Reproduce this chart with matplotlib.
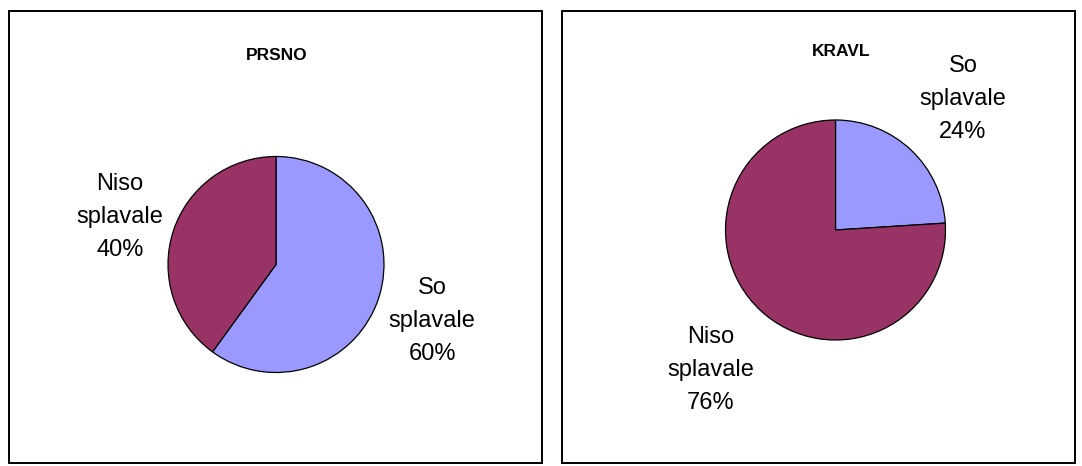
import matplotlib
matplotlib.use("Agg")
import matplotlib.pyplot as plt
from matplotlib.patches import Rectangle

plt.rcParams['font.family'] = ['Liberation Sans', 'DejaVu Sans']

# Data
titles = ["PRSNO", "KRAVL"]
categories = ["So\nsplavale", "Niso\nsplavale"]
prsno_values = [60, 40]
kravl_values = [24, 76]
colors = ["#9999FF", "#993366"]

W, H = 1082, 466
fig = plt.figure(figsize=(W / 100, H / 100), dpi=100)
ax = fig.add_axes([0, 0, 1, 1])

# panel frames (x0, y0, x1, y1) in pixel coordinates
frames = [(9, 11, 542, 463), (562, 11, 1075, 463)]
for x0, y0, x1, y1 in frames:
    ax.add_patch(Rectangle((x0, y0), x1 - x0, y1 - y0, fill=False,
                           edgecolor="black", linewidth=1.4, zorder=1))

panels = [
    dict(title=titles[0], values=prsno_values, center=(276, 264.5), radius=108,
         title_pos=(277, 55),
         label_pos=[(432, 321), (120, 217)]),
    dict(title=titles[1], values=kravl_values, center=(835.5, 230), radius=110,
         title_pos=(841, 51),
         label_pos=[(963, 99), (711, 370)]),
]

for p in panels:
    cx, cy = p["center"]
    r = p["radius"]
    # y axis is inverted, so counterclock=True renders clockwise on screen
    ax.pie(p["values"], colors=colors, startangle=-90,
           counterclock=True, center=(cx, cy), radius=r,
           wedgeprops=dict(edgecolor="black", linewidth=0.9),
           frame=True)
    ax.text(*p["title_pos"], p["title"], ha="center", va="center",
            fontsize=12.5, fontweight="bold")
    for (lx, ly), cat, v in zip(p["label_pos"], categories, p["values"]):
        ax.text(lx, ly, f"{cat}\n{v}%", ha="center", va="center",
                fontsize=17, linespacing=1.63)

ax.set_xlim(0, W)
ax.set_ylim(H, 0)
ax.set_aspect("auto")
ax.axis("off")

fig.savefig("out.png", dpi=100, facecolor="white")
